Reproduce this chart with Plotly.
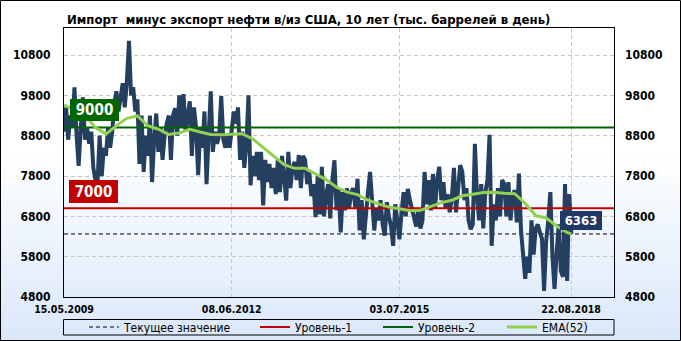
import plotly.graph_objects as go
import pandas as pd

# ---------------- data ----------------
TITLE = "Импорт  минус экспорт нефти в/из США, 10 лет (тыс. баррелей в день)"
start_date = "2009-05-15"
step_days = 14
values = [
    8900, 9500, 8700, 9300, 9000, 10000, 8800, 8050, 9000, 9750,
    8700, 9000, 8600, 8900, 8000, 7700, 7650, 8800, 7800, 8500,
    8300, 9000, 8500, 8900, 9600, 9900, 9400, 9700, 10100, 9500,
    10150, 11150, 9800, 10000, 9400, 9700, 8100, 9300, 7900, 8800,
    8300, 9300, 7650, 8700, 9350, 8400, 9000, 8200, 8800, 9100,
    9300, 8200, 9300,
    9480, 8800, 9800, 9000, 9830, 8900, 9300, 9650, 8300, 9500,
    9000, 7820, 9000, 8500, 9400, 7600, 8800, 9900, 8400, 8900,
    8600, 8800, 9780, 8700, 8500, 8800, 8500, 8900, 9400, 9100,
    9500, 8200, 8900, 8000, 8600, 9800, 7570, 8300, 7800, 8400,
    7700, 8400, 7070, 8200, 7650, 8100, 7500, 8000, 7350, 8200,
    7400, 8300,
    7700, 7190, 8400, 7500, 8000, 8150, 7700, 8320, 7500, 8300,
    8200, 7600, 7900, 7300, 7600, 6780, 7800, 6850, 8030, 6800,
    7300, 7600, 6750, 7700, 8190, 6950, 7500, 6400, 7400, 6950,
    7500, 7000, 7400, 7500, 7000, 7730, 6450, 7200, 6230, 7000,
    7400, 7900, 7000, 6450, 7000, 6700, 7200, 6600, 6320, 7150,
    6800, 6550, 6070,
    7100, 6700, 6230, 6900, 7400, 6800, 7480, 7200, 7000, 6800,
    6550, 7000, 6500, 6700, 7900, 7100, 7700, 6950, 7850, 7000,
    7700, 8030, 7200, 7650, 7000, 7350, 6900, 7250, 8000, 6900,
    7400, 8070, 7900, 7200, 7500, 6700, 6480, 6600, 8600, 7300,
    6700, 7600, 6500, 7400, 7700, 8820, 6070, 7100, 6700, 7500,
    6800, 7700,
    7600, 6800, 7650, 6700, 7300, 7450, 6650, 7860, 6450, 5800,
    5250, 5800, 5400, 6700, 5850, 6500, 6600, 6400, 6250, 4950,
    6200, 6700, 7400, 5800, 5000, 5900, 6600, 5450, 5300, 7600,
    5200, 7350, 6363,
]
ema_step_days = 70
ema_values = [
    9560, 9430, 9320, 9000, 8840, 9050, 9230, 9290, 9050, 8960,
    8830, 8870, 8960, 8890, 8830, 8820, 8830, 8850, 8720, 8510,
    8300, 8080, 7990, 7990, 7850, 7710, 7520, 7400, 7340, 7200,
    7110, 7030, 6990, 6940, 6950, 7050, 7140, 7200, 7310, 7350,
    7390, 7400, 7370, 7360, 7120, 6820, 6760, 6560, 6400, 6363,
]
level_1 = 7000
level_2 = 9000
current_value = 6363
x_range = ["2009-05-15", "2019-06-05"]
y_range = [4800, 11470]
y_ticks = [4800, 5800, 6800, 7800, 8800, 9800, 10800]
x_tick_dates = ["2009-05-15", "2012-06-08", "2015-07-03", "2018-08-22"]
x_tick_labels = ["15.05.2009", "08.06.2012", "03.07.2015", "22.08.2018"]
legend_names = ["Текущее значение", "Уровень-1", "Уровень-2", "EMA(52)"]

dates = pd.date_range(start_date, periods=len(values), freq=f"{step_days}D")
ema_dates = list(pd.date_range(start_date, periods=len(ema_values) - 1,
                               freq=f"{ema_step_days}D")) + [dates[-1]]
span = [pd.Timestamp(x_range[0]), pd.Timestamp(x_range[1])]

# ---------------- style ----------------
FONT = "DejaVu Sans Condensed, Liberation Sans Narrow, DejaVu Sans, sans-serif"
W, H = 681, 341
ML, MR, MT, MB = 64, 67, 28, 44
PW, PH = W - ML - MR, H - MT - MB


def px_x(x):
    return (x - ML) / PW


def px_y(y):
    return (H - MB - y) / PH


fig = go.Figure()

fig.add_trace(go.Scatter(x=span, y=[current_value, current_value], mode="lines",
                         line=dict(color="black", width=1, dash="4px,3px"),
                         name=legend_names[0], legend="legend", hoverinfo="skip"))
fig.add_trace(go.Scatter(x=dates, y=values, mode="lines",
                         line=dict(color="#243F60", width=4),
                         showlegend=False, name="Импорт минус экспорт"))
fig.add_trace(go.Scatter(x=span, y=[level_1, level_1], mode="lines", yaxis="y2",
                         line=dict(color="#C00000", width=2),
                         name=legend_names[1], legend="legend2"))
fig.add_trace(go.Scatter(x=span, y=[level_2, level_2], mode="lines", yaxis="y2",
                         line=dict(color="#006400", width=2),
                         name=legend_names[2], legend="legend3"))
fig.add_trace(go.Scatter(x=ema_dates, y=ema_values, mode="lines", yaxis="y2",
                         line=dict(color="#92D050", width=3),
                         name=legend_names[3], legend="legend4"))

shapes = []
# background gradient
top_px, bot_px, n = 150, H, 24
c0, c1 = (255, 255, 255), (218, 232, 250)
for k in range(n):
    t = (k + 0.5) / n
    col = tuple(round(c0[j] + (c1[j] - c0[j]) * t) for j in range(3))
    y0 = top_px + (bot_px - top_px) * k / n
    y1 = top_px + (bot_px - top_px) * (k + 1) / n + 0.6
    shapes.append(dict(type="rect", xref="paper", yref="paper", layer="below",
                       x0=px_x(0), x1=px_x(W), y0=px_y(y1), y1=px_y(y0),
                       line=dict(width=0), fillcolor="rgb(%d,%d,%d)" % col))
# legend frame
shapes.append(dict(type="rect", xref="paper", yref="paper",
                   x0=px_x(63.5), x1=px_x(614), y0=px_y(335), y1=px_y(319.5),
                   line=dict(color="black", width=1), fillcolor="rgba(0,0,0,0)"))
# outer frame
shapes.append(dict(type="rect", xref="paper", yref="paper",
                   x0=px_x(0.5), x1=px_x(W - 0.5), y0=px_y(H - 0.5), y1=px_y(0.5),
                   line=dict(color="black", width=1), fillcolor="rgba(0,0,0,0)"))

label_common = dict(showarrow=False, xref="paper", yref="y", xanchor="left",
                    yanchor="bottom", borderpad=0, borderwidth=0)
annotations = [
    dict(text=TITLE, xref="paper", yref="paper", x=px_x(65), y=px_y(19),
         xanchor="left", yanchor="middle", showarrow=False,
         font=dict(family=FONT, size=13, color="black", weight="bold")),
    dict(text=str(level_2), x=px_x(70), y=level_2, yshift=6.5, width=49, height=22,
         bgcolor="#006600", font=dict(family=FONT, size=15, color="white", weight="bold"),
         **label_common),
    dict(text=str(level_1), x=px_x(69), y=level_1, yshift=5, width=49, height=23,
         bgcolor="#C00000", font=dict(family=FONT, size=15, color="white", weight="bold"),
         **label_common),
    dict(text=str(current_value), x=px_x(560), y=current_value, yshift=4, width=42,
         height=19, bgcolor="#1F3864",
         font=dict(family=FONT, size=13, color="white", weight="bold"), **label_common),
]

axis_font = dict(family=FONT, size=12, color="black", weight="bold")
yaxis_common = dict(range=y_range, tickvals=y_ticks, tickformat="d", ticks="",
                    ticklabelstandoff=10, tickfont=axis_font, zeroline=False,
                    fixedrange=True)

legend_common = dict(orientation="h", yanchor="middle", xanchor="left",
                     y=px_y(327), bgcolor="rgba(0,0,0,0)", borderwidth=0,
                     font=dict(family=FONT, size=12, color="black"))

fig.update_layout(
    width=W, height=H,
    margin=dict(l=ML, r=MR, t=MT, b=MB, pad=0, autoexpand=False),
    paper_bgcolor="white", plot_bgcolor="rgba(0,0,0,0)",
    xaxis=dict(type="date", range=x_range, tickvals=x_tick_dates, ticktext=x_tick_labels,
               ticks="", ticklabelstandoff=2,
               tickfont=dict(family=FONT, size=10.5, color="black", weight="bold"),
               showgrid=True, gridcolor="#C8C8C8", griddash="4px,3px", gridwidth=1,
               showline=True, linecolor="black", linewidth=1, mirror=True,
               zeroline=False, automargin=False),
    yaxis=dict(showgrid=True, gridcolor="#C8C8C8", griddash="4px,3px", gridwidth=1,
               showline=True, linecolor="black", linewidth=1, mirror=True,
               side="left", automargin=False, **yaxis_common),
    yaxis2=dict(overlaying="y", side="right", showgrid=False, showline=False,
                automargin=False, **yaxis_common),
    shapes=shapes,
    annotations=annotations,
    legend=dict(x=px_x(84), **legend_common),
    legend2=dict(x=px_x(255), **legend_common),
    legend3=dict(x=px_x(378), **legend_common),
    legend4=dict(x=px_x(502), **legend_common),
    showlegend=True,
)

fig.write_html("out.html")
